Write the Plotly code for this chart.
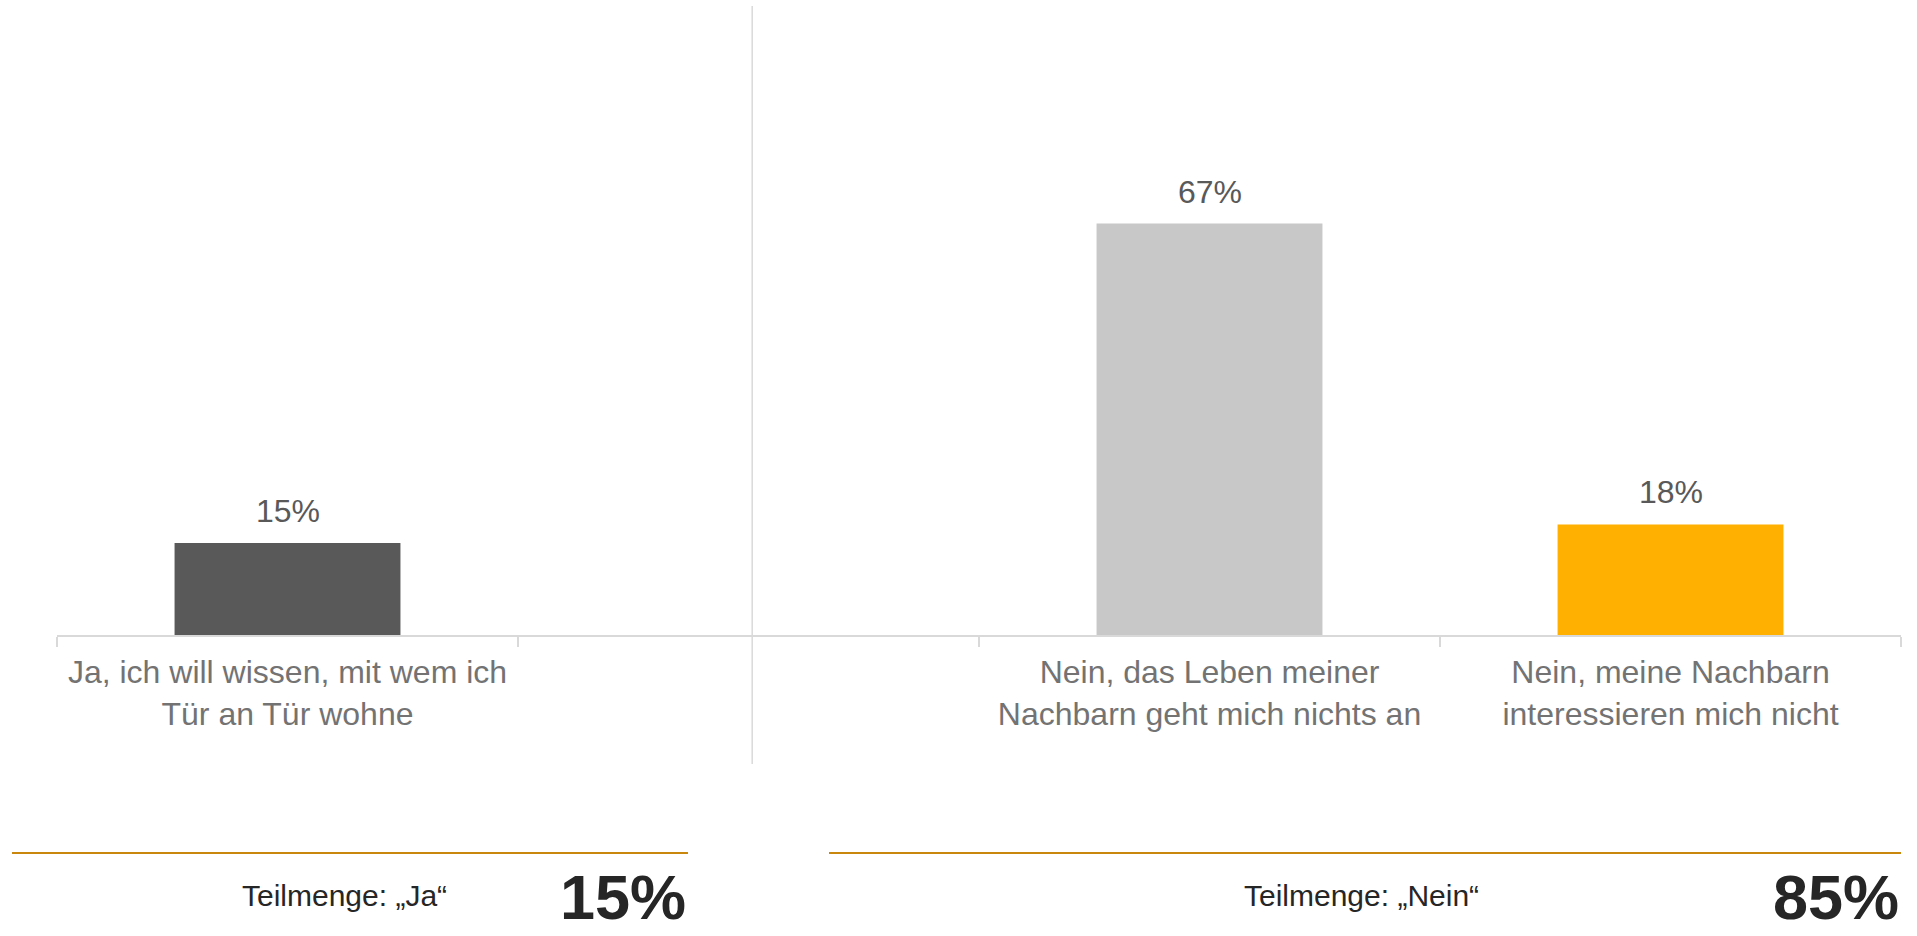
import plotly.graph_objects as go

# ---- data ----
categories = [
    "Ja, ich will wissen, mit wem ich<br>Tür an Tür wohne",
    " ",
    "Nein, das Leben meiner<br>Nachbarn geht mich nichts an",
    "Nein, meine Nachbarn<br>interessieren mich nicht",
]
values = [15, None, 67, 18]
value_labels = ["15%", "", "67%", "18%"]
bar_colors = ["#595959", "#FFFFFF", "#C8C8C8", "#FFB000"]

subset_labels = ["Teilmenge: „Ja“", "Teilmenge: „Nein“"]
subset_values = ["15%", "85%"]

# ---- layout geometry (pixels) ----
W, H = 1917, 936
ML, MR, MT, MB = 57, 16, 21, 301
PW, PH = W - ML - MR, H - MT - MB


def px_x(p):
    return (p - ML) / PW


def px_y(p):
    return (H - MB - p) / PH


fig = go.Figure()
fig.add_trace(go.Bar(
    x=categories,
    y=values,
    marker=dict(color=bar_colors, line=dict(width=0)),
    width=0.49,
    hoverinfo="skip",
    showlegend=False,
))

# value labels above bars
for c, v, lab in zip(categories, values, value_labels):
    if v is None:
        continue
    fig.add_annotation(
        x=c, y=v, xref="x", yref="y", text=lab, showarrow=False,
        yanchor="middle", yshift=32,
        font=dict(family="Liberation Sans, Arial, sans-serif", size=32, color="#595959"),
    )

shapes = []
# vertical divider through the empty category
shapes.append(dict(
    type="line", xref="x", yref="paper", x0=1.008, x1=1.008,
    y0=px_y(764), y1=px_y(6),
    line=dict(color="#D9D9D9", width=1.5),
))
# orange lines at the bottom
for x0, x1 in [(12, 688), (829, 1901)]:
    shapes.append(dict(
        type="line", xref="paper", yref="paper",
        x0=px_x(x0), x1=px_x(x1), y0=px_y(853), y1=px_y(853),
        line=dict(color="#C9870E", width=2),
    ))

# subset texts
for lab, cx in zip(subset_labels, [344, 1361]):
    fig.add_annotation(
        x=px_x(cx), y=px_y(895), xref="paper", yref="paper", text=lab,
        showarrow=False, xanchor="center", yanchor="middle",
        font=dict(family="Liberation Sans, Arial, sans-serif", size=30, color="#262626"),
    )
for val, rx in zip(subset_values, [688, 1901]):
    fig.add_annotation(
        x=px_x(rx), y=px_y(897), xref="paper", yref="paper", text="<b>" + val + "</b>",
        showarrow=False, xanchor="right", yanchor="middle",
        font=dict(family="Liberation Sans, Arial, sans-serif", size=63, color="#262626"),
    )

fig.update_layout(
    width=W, height=H,
    margin=dict(l=ML, r=MR, t=MT, b=MB, pad=0),
    paper_bgcolor="white", plot_bgcolor="white",
    shapes=shapes,
    bargap=0.51,
)
fig.update_xaxes(
    type="category", categoryorder="array", categoryarray=categories,
    showline=True, linecolor="#D9D9D9", linewidth=2,
    ticks="outside", tickson="boundaries", ticklen=10, tickcolor="#D9D9D9", tickwidth=1.5,
    ticklabelstandoff=8,
    showgrid=False, zeroline=False,
    tickfont=dict(family="Liberation Sans, Arial, sans-serif", size=32, color="#737373"),
)
fig.update_yaxes(range=[0, 100], visible=False, showgrid=False, zeroline=False)

fig.write_html(
    "out.html",
    config={"displayModeBar": False},
    post_script="document.body.style.margin='0';document.body.style.overflow='hidden';",
)
